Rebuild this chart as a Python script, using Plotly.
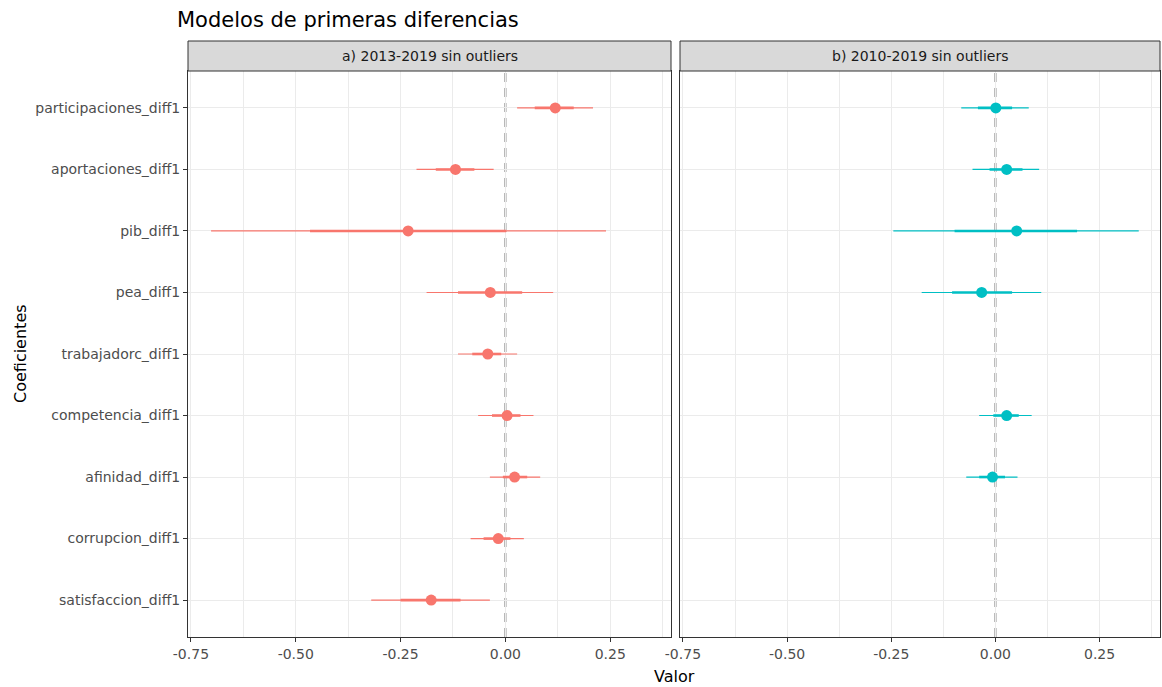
import plotly.graph_objects as go

# Coefficient names (top to bottom)
coefs = [
    "participaciones_diff1", "aportaciones_diff1", "pib_diff1", "pea_diff1",
    "trabajadorc_diff1", "competencia_diff1", "afinidad_diff1",
    "corrupcion_diff1", "satisfaccion_diff1",
]

panel_titles = ["a) 2013-2019 sin outliers", "b) 2010-2019 sin outliers"]

# Model a) 2013-2019: estimate, inner interval, outer interval
est_a = [0.119, -0.119, -0.232, -0.036, -0.042, 0.004, 0.022, -0.017, -0.177]
in_lo_a = [0.070, -0.166, -0.466, -0.113, -0.079, -0.032, -0.006, -0.052, -0.250]
in_hi_a = [0.163, -0.074, 0.002, 0.040, -0.010, 0.036, 0.052, 0.012, -0.107]
out_lo_a = [0.028, -0.212, -0.702, -0.188, -0.113, -0.065, -0.037, -0.083, -0.320]
out_hi_a = [0.209, -0.028, 0.240, 0.114, 0.028, 0.067, 0.083, 0.044, -0.037]

# Model b) 2010-2019 (None = not in model)
est_b = [0.001, 0.027, 0.051, -0.033, None, 0.027, -0.007, None, None]
in_lo_b = [-0.042, -0.014, -0.098, -0.104, None, -0.005, -0.039, None, None]
in_hi_b = [0.040, 0.065, 0.196, 0.040, None, 0.056, 0.023, None, None]
out_lo_b = [-0.082, -0.055, -0.245, -0.177, None, -0.039, -0.070, None, None]
out_hi_b = [0.080, 0.105, 0.344, 0.110, None, 0.087, 0.053, None, None]

x_ticks = [-0.75, -0.50, -0.25, 0.00, 0.25]
x_tick_text = ["-0.75", "-0.50", "-0.25", "0.00", "0.25"]

colors = ["#F8766D", "#00BFC4"]
FONT = "DejaVu Sans, Arial, sans-serif"


def segments(lo, hi):
    xs, ys = [], []
    for c, a, b in zip(coefs, lo, hi):
        if a is None or b is None:
            continue
        xs += [a, b, None]
        ys += [c, c, None]
    return xs, ys


fig = go.Figure()
models = [
    (est_a, in_lo_a, in_hi_a, out_lo_a, out_hi_a),
    (est_b, in_lo_b, in_hi_b, out_lo_b, out_hi_b),
]
for i, (est, ilo, ihi, olo, ohi) in enumerate(models):
    xa = "x" if i == 0 else "x2"
    ya = "y" if i == 0 else "y2"
    xs, ys = segments(olo, ohi)
    fig.add_trace(go.Scatter(x=xs, y=ys, mode="lines", xaxis=xa, yaxis=ya,
                             line=dict(color=colors[i], width=1.2),
                             showlegend=False, hoverinfo="skip"))
    xs, ys = segments(ilo, ihi)
    fig.add_trace(go.Scatter(x=xs, y=ys, mode="lines", xaxis=xa, yaxis=ya,
                             line=dict(color=colors[i], width=2.6),
                             showlegend=False, hoverinfo="skip"))
    px = [e for e in est if e is not None]
    py = [c for c, e in zip(coefs, est) if e is not None]
    fig.add_trace(go.Scatter(x=px, y=py, mode="markers", xaxis=xa, yaxis=ya,
                             marker=dict(color=colors[i], size=11),
                             showlegend=False))

x_range = [-0.757, 0.395]
tick_font = dict(family=FONT, size=14, color="#4D4D4D")
xaxis_common = dict(
    range=x_range, tickvals=x_ticks, ticktext=x_tick_text,
    showgrid=True, gridcolor="#EBEBEB", gridwidth=1.1,
    minor=dict(tick0=-0.75, dtick=0.125, showgrid=True,
               gridcolor="#EBEBEB", gridwidth=0.6, ticks=""),
    zeroline=False, showline=True, mirror=True, linecolor="#333333",
    linewidth=1, ticks="outside", ticklen=4, tickcolor="#333333",
    tickfont=tick_font,
)
yaxis_common = dict(
    type="category", categoryorder="array", categoryarray=coefs[::-1],
    range=[-0.6, 8.6], showgrid=True, gridcolor="#EBEBEB", gridwidth=1.1,
    zeroline=False, showline=True, mirror=True, linecolor="#333333",
    linewidth=1, tickcolor="#333333", tickfont=tick_font,
)

PLOT_W = 972
PLOT_H = 566
split_l = 483 / PLOT_W
split_r = 492 / PLOT_W
fig.update_layout(
    width=1162, height=687,
    margin=dict(l=188, r=2, t=71, b=50),
    paper_bgcolor="white", plot_bgcolor="white",
    font=dict(family=FONT),
    xaxis=dict(domain=[0, split_l], anchor="y", **xaxis_common),
    xaxis2=dict(domain=[split_r, 1], anchor="y2", **xaxis_common),
    yaxis=dict(domain=[0, 1], anchor="x", ticks="outside", ticklen=4,
               **yaxis_common),
    yaxis2=dict(domain=[0, 1], anchor="x2", matches="y", ticks="",
                showticklabels=False, **yaxis_common),
    title=dict(text="Modelos de primeras diferencias", x=177 / 1162,
               xanchor="left", y=1 - 20 / 687, yanchor="middle",
               font=dict(family=FONT, size=21, color="#000000")),
)

# Zero reference lines
for xa in ("x", "x2"):
    fig.add_shape(type="line", xref=xa, yref="paper", x0=0, x1=0, y0=0, y1=1,
                  line=dict(color="#A3A3A3", width=2.3, dash="9px,6px"),
                  layer="below")

# Facet strips
strip_top = 1 + 30 / PLOT_H
for dom, label in zip([(0, split_l), (split_r, 1)], panel_titles):
    fig.add_shape(type="rect", xref="paper", yref="paper", x0=dom[0], x1=dom[1],
                  y0=1, y1=strip_top, fillcolor="#D9D9D9",
                  line=dict(color="#333333", width=1))
    fig.add_annotation(text=label, xref="paper", yref="paper",
                       x=(dom[0] + dom[1]) / 2, y=(1 + strip_top) / 2,
                       showarrow=False, xanchor="center", yanchor="middle",
                       font=dict(family=FONT, size=14, color="#1A1A1A"))

# Axis titles
fig.add_annotation(text="Valor", xref="paper", yref="paper", x=0.5,
                   y=-39 / PLOT_H, showarrow=False, xanchor="center",
                   yanchor="middle",
                   font=dict(family=FONT, size=16, color="#000000"))
fig.add_annotation(text="Coeficientes", xref="paper", yref="paper",
                   x=-168 / PLOT_W, y=0.5, textangle=-90, showarrow=False,
                   xanchor="center", yanchor="middle",
                   font=dict(family=FONT, size=16, color="#000000"))

fig.write_html("out.html")
